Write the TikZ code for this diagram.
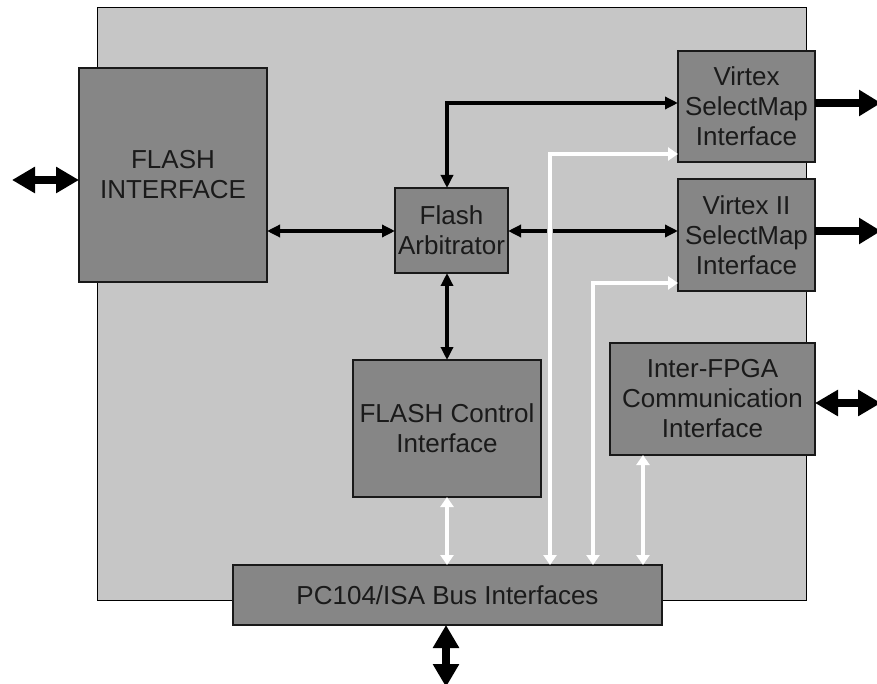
\documentclass[tikz,border=0pt]{standalone}
\usepackage{fontspec}
\setmainfont{Liberation Sans}
\usetikzlibrary{arrows.meta}
\definecolor{bgray}{HTML}{C6C6C6}
\definecolor{dgray}{HTML}{868686}
\definecolor{txt}{HTML}{1A1A1A}
\begin{document}
\begin{tikzpicture}[x=1pt,y=-1pt,
  chipbox/.style={draw=black, line width=1pt, fill=bgray, inner sep=0pt, outer sep=0pt, anchor=north west},
  blk/.style={draw=black!90, line width=1.3pt, fill=dgray, inner sep=0pt, outer sep=0pt,
    anchor=north west, align=center, text=txt, font=\fontsize{26}{30}\selectfont},
  bk/.style={line width=3.5pt, black, {Triangle[length=13pt,width=12pt]}-{Triangle[length=13pt,width=12pt]}},
  wt/.style={line width=4pt, white, {Triangle[length=10pt,width=13pt]}-{Triangle[length=10pt,width=13pt]}},
  bigd/.style={line width=8pt, black, {Triangle[length=23pt,width=25pt]}-{Triangle[length=23pt,width=25pt]}},
  bigs/.style={line width=8pt, black, -{Triangle[length=22pt,width=25pt]}}]
\useasboundingbox (0,0) rectangle (877,684);
\fill[white] (0,0) rectangle (877,684);

\node[chipbox, minimum width=709pt, minimum height=592pt] (chip) at (97,8) {};

\node[blk, minimum width=188pt, minimum height=214pt] (fi) at (79,68) {FLASH\\INTERFACE};
\node[blk, minimum width=113pt, minimum height=85pt] (arb) at (395,188) {Flash\\Arbitrator};
\node[blk, minimum width=137pt, minimum height=111pt] (vx) at (678,51) {Virtex\\SelectMap\\Interface};
\node[blk, minimum width=137pt, minimum height=112pt] (vx2) at (678,179) {Virtex II\\SelectMap\\Interface};
\node[blk, minimum width=205pt, minimum height=112pt] (ifp) at (610,343) {Inter-FPGA\\Communication\\Interface};
\node[blk, minimum width=188pt, minimum height=137pt] (fc) at (353,360) {FLASH Control\\Interface};
\node[blk, minimum width=429pt, minimum height=60pt] (pc) at (233,565) {PC104/ISA Bus Interfaces};

% black internal connectors
\draw[bk] (fi.east |- 0,231) -- (arb.west |- 0,231);
\draw[bk] (arb.east |- 0,231) -- (vx2.west |- 0,231);
\draw[bk] (arb.north -| 447,0) |- (vx.west |- 0,103);
\draw[bk] (arb.south -| 447,0) -- (fc.north -| 447,0);

% white bus connectors
\draw[bgray, line width=6.5pt] (550,224) -- (550,238);
\draw[wt] (pc.north -| 550,0) |- (vx.west |- 0,154);
\draw[wt] (pc.north -| 593,0) |- (vx2.west |- 0,283);
\draw[wt] (pc.north -| 643,0) -- (ifp.south -| 643,0);
\draw[wt] (pc.north -| 447,0) -- (fc.south -| 447,0);

% external connectors
\coordinate (lft) at (12,180);
\coordinate (r1) at (881,103);
\coordinate (r2) at (881,231);
\coordinate (r3) at (881,403);
\coordinate (bot) at (446,687);
\draw[bigd] (lft) -- (fi.west |- lft);
\draw[bigs] (vx.east |- r1) -- (r1);
\draw[bigs] (vx2.east |- r2) -- (r2);
\draw[bigd] (ifp.east |- r3) -- (r3);
\draw[bigd] (pc.south -| bot) -- (bot);
\end{tikzpicture}
\end{document}
